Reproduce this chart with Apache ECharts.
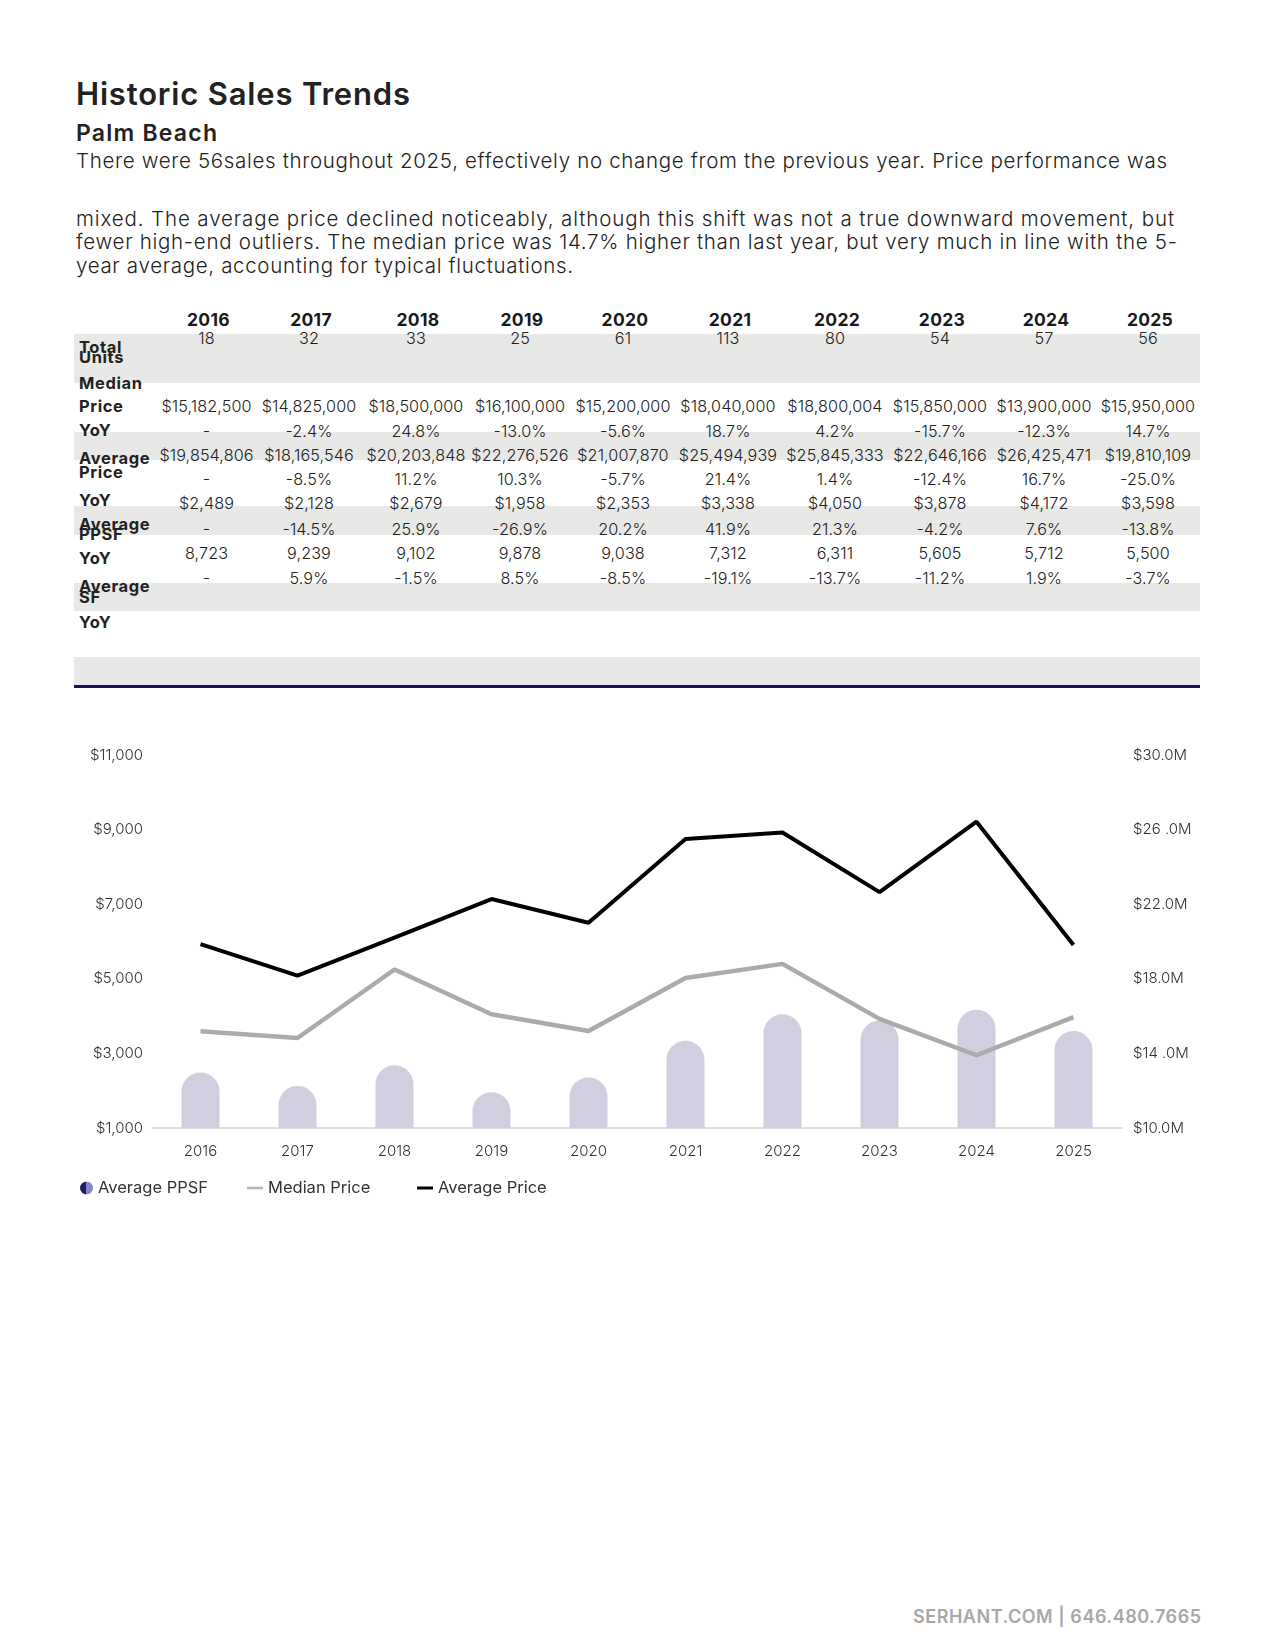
<!DOCTYPE html>
<html>
<head>
<meta charset="utf-8">
<script src="https://cdn.jsdelivr.net/npm/echarts@6.0.0/dist/echarts.min.js"></script>
<style>
  html, body { margin: 0; padding: 0; background: #fff; }
  #page { position: relative; width: 1275px; height: 1650px; overflow: hidden; background: #fff; font-family: Inter, "Noto Sans", sans-serif; color: #222; }
  .t { position: absolute; white-space: nowrap; }
  .band { position: absolute; left: 74px; width: 1126px; background: #e8e9e7; }
  #chart { position: absolute; left: 0; top: 700px; width: 1275px; height: 520px; }
</style>
</head>
<body>
<div id="page">
  <div id="chart"></div>
</div>
<script>
// ---------------- DATA ----------------
const title = 'Historic Sales Trends';
const subtitle = 'Palm Beach';
const paragraphLines = [
  'There were 56sales throughout 2025, effectively no change from the previous year. Price performance was',
  'mixed. The average price declined noticeably, although this shift was not a true downward movement, but',
  'fewer high-end outliers. The median price was 14.7% higher than last year, but very much in line with the 5-',
  'year average, accounting for typical fluctuations.'
];
const years = ['2016','2017','2018','2019','2020','2021','2022','2023','2024','2025'];
const totalUnits = [18, 32, 33, 25, 61, 113, 80, 54, 57, 56];
const medianPrice = [15182500, 14825000, 18500000, 16100000, 15200000, 18040000, 18800004, 15850000, 13900000, 15950000];
const medianYoY = ['-', '-2.4%', '24.8%', '-13.0%', '-5.6%', '18.7%', '4.2%', '-15.7%', '-12.3%', '14.7%'];
const avgPrice = [19854806, 18165546, 20203848, 22276526, 21007870, 25494939, 25845333, 22646166, 26425471, 19810109];
const avgPriceYoY = ['-', '-8.5%', '11.2%', '10.3%', '-5.7%', '21.4%', '1.4%', '-12.4%', '16.7%', '-25.0%'];
const avgPPSF = [2489, 2128, 2679, 1958, 2353, 3338, 4050, 3878, 4172, 3598];
const ppsfYoY = ['-', '-14.5%', '25.9%', '-26.9%', '20.2%', '41.9%', '21.3%', '-4.2%', '7.6%', '-13.8%'];
const avgSF = [8723, 9239, 9102, 9878, 9038, 7312, 6311, 5605, 5712, 5500];
const sfYoY = ['-', '5.9%', '-1.5%', '8.5%', '-8.5%', '-19.1%', '-13.7%', '-11.2%', '1.9%', '-3.7%'];
const leftTickLabels = ['$1,000', '$3,000', '$5,000', '$7,000', '$9,000', '$11,000'];
const rightTickLabels = ['$10.0M', '$14 .0M', '$18.0M', '$22.0M', '$26 .0M', '$30.0M'];
const legendNames = ['Average PPSF', 'Median Price', 'Average Price'];
const footerText = 'SERHANT.COM | 646.480.7665';

// ---------------- LAYOUT HELPERS ----------------
const page = document.getElementById('page');
function addText(txt, o) {
  const d = document.createElement('div');
  d.className = 't';
  d.textContent = txt;
  const lh = o.lh || Math.round(o.size * 1.25);
  d.style.fontSize = o.size + 'px';
  d.style.lineHeight = lh + 'px';
  d.style.fontWeight = o.weight || 400;
  d.style.color = o.color || '#222';
  d.style.top = (o.cy - lh / 2) + 'px';
  if (o.ls) d.style.letterSpacing = o.ls + 'px';
  page.appendChild(d);
  const w0 = d.getBoundingClientRect().width;
  let w = w0;
  if (o.fit) {
    const n = Math.max(1, txt.length - 1);
    d.style.letterSpacing = ((o.fit - w0) / n) + 'px';
    w = o.fit;
  }
  if (o.cx !== undefined) d.style.left = (o.cx - w / 2) + 'px';
  else if (o.right !== undefined) d.style.left = (o.right - w) + 'px';
  else d.style.left = o.left + 'px';
  return d;
}
function addBand(top, bottom, color) {
  const b = document.createElement('div');
  b.className = 'band';
  b.style.top = top + 'px';
  b.style.height = (bottom - top) + 'px';
  if (color) b.style.background = color;
  page.appendChild(b);
}
const fmtMoney = v => '$' + v.toLocaleString('en-US');
const fmtNum = v => v.toLocaleString('en-US');

// ---------------- HEADER TEXT ----------------
addText(title, { left: 76, cy: 93, size: 31, weight: 600, fit: 334, color: '#222' });
addText(subtitle, { left: 76, cy: 133, size: 23, weight: 600, fit: 141, color: '#222' });
const paraY = [161, 219, 242, 266];
const paraW = [1091, 1098, 1101, 497];
paragraphLines.forEach((l, i) => addText(l, { left: 76, cy: paraY[i], size: 20.5, weight: 300, fit: paraW[i], color: '#222' }));

// ---------------- TABLE ----------------
[[334, 383], [432, 460], [506, 535], [583, 611], [657, 685]].forEach(b => addBand(b[0], b[1]));
addBand(685, 688, '#14145a');

const colX = [208.5, 311, 418, 522, 625, 730, 837, 942, 1046, 1150];
years.forEach((y, i) => addText(y, { cx: colX[i], cy: 320, size: 17.5, weight: 700, ls: 0.3, color: '#1a1a1a' }));

const rows = [
  { vals: totalUnits.map(fmtNum), cy: 338 },
  { vals: medianPrice.map(fmtMoney), cy: 406 },
  { vals: medianYoY, cy: 431 },
  { vals: avgPrice.map(fmtMoney), cy: 455 },
  { vals: avgPriceYoY, cy: 479 },
  { vals: avgPPSF.map(fmtMoney), cy: 503 },
  { vals: ppsfYoY, cy: 529 },
  { vals: avgSF.map(fmtNum), cy: 553 },
  { vals: sfYoY, cy: 578 }
];
rows.forEach(r => r.vals.forEach((v, i) => addText(v, { cx: colX[i] - 2, cy: r.cy, size: 16.2, weight: 300, ls: 0.1, color: '#222' })));

const rowLabels = [
  ['Total', 347], ['Units', 357], ['Median', 383], ['Price', 406], ['YoY', 430],
  ['Average', 458], ['Price', 472], ['YoY', 500], ['Average', 524], ['PPSF', 534],
  ['YoY', 558], ['Average', 586], ['SF', 597], ['YoY', 622]
];
rowLabels.forEach(l => addText(l[0], { left: 79, cy: l[1], size: 16.5, weight: 700, ls: 0.6, color: '#222' }));

// ---------------- FOOTER ----------------
addText(footerText, { right: 1201, cy: 1616, size: 18, weight: 600, color: '#a8a8a8', fit: 288 });

// ---------------- CHART ----------------
const chart = echarts.init(document.getElementById('chart'), null, { renderer: 'canvas' });
const FONT = 'Inter, "Noto Sans", sans-serif';
const leftMin = 1000, leftMax = 11000, leftStep = 2000;
const rightMin = 10000000, rightMax = 30000000, rightStep = 4000000;
const legendBase = { top: 479, padding: 0, selectedMode: false, textStyle: { fontSize: 16.5, color: '#333', fontFamily: FONT, lineHeight: 18 } };
chart.setOption({
  animation: false,
  backgroundColor: 'transparent',
  grid: { left: 152, right: 153, top: 55, bottom: 92, containLabel: false },
  legend: [
    Object.assign({}, legendBase, {
      left: 80, itemWidth: 13, itemHeight: 13,
      data: [{ name: legendNames[0], icon: 'circle', itemStyle: { color: { type: 'linear', x: 0, y: 0, x2: 1, y2: 0, colorStops: [
        { offset: 0, color: '#1d1d6b' }, { offset: 0.5, color: '#1d1d6b' }, { offset: 0.5, color: '#8686c6' }, { offset: 1, color: '#8686c6' }] } } }]
    }),
    Object.assign({}, legendBase, {
      left: 247, itemWidth: 16, itemHeight: 2.5,
      data: [{ name: legendNames[1], icon: 'rect', itemStyle: { color: '#b5b5b5' } }]
    }),
    Object.assign({}, legendBase, {
      left: 417, itemWidth: 16, itemHeight: 3,
      data: [{ name: legendNames[2], icon: 'rect', itemStyle: { color: '#000' } }]
    })
  ],
  xAxis: {
    type: 'category',
    data: years,
    axisLine: { lineStyle: { color: '#d6d6d6', width: 1.5 } },
    axisTick: { show: false },
    axisLabel: { fontSize: 15, color: '#333', fontFamily: FONT, fontWeight: 300, margin: 16 }
  },
  yAxis: [
    {
      type: 'value', min: leftMin, max: leftMax, interval: leftStep,
      splitLine: { show: false }, axisLine: { show: false }, axisTick: { show: false },
      axisLabel: { fontSize: 15, color: '#333', fontFamily: FONT, fontWeight: 300, margin: 9,
        formatter: v => leftTickLabels[Math.round((v - leftMin) / leftStep)] }
    },
    {
      type: 'value', min: rightMin, max: rightMax, interval: rightStep, position: 'right',
      splitLine: { show: false }, axisLine: { show: false }, axisTick: { show: false },
      axisLabel: { fontSize: 15, color: '#333', fontFamily: FONT, fontWeight: 300, margin: 11,
        formatter: v => rightTickLabels[Math.round((v - rightMin) / rightStep)] }
    }
  ],
  series: [
    {
      name: legendNames[0], type: 'bar', yAxisIndex: 0, data: avgPPSF, barWidth: 38, z: 1,
      itemStyle: { color: '#cfcfe0', borderRadius: [19, 19, 0, 0] }
    },
    {
      name: legendNames[1], type: 'line', yAxisIndex: 1, data: medianPrice, symbol: 'none', z: 3,
      lineStyle: { color: '#ababab', width: 4.5 }, itemStyle: { color: '#ababab' }
    },
    {
      name: legendNames[2], type: 'line', yAxisIndex: 1, data: avgPrice, symbol: 'none', z: 4,
      lineStyle: { color: '#000', width: 4 }, itemStyle: { color: '#000' }
    }
  ]
});
</script>
</body>
</html>
